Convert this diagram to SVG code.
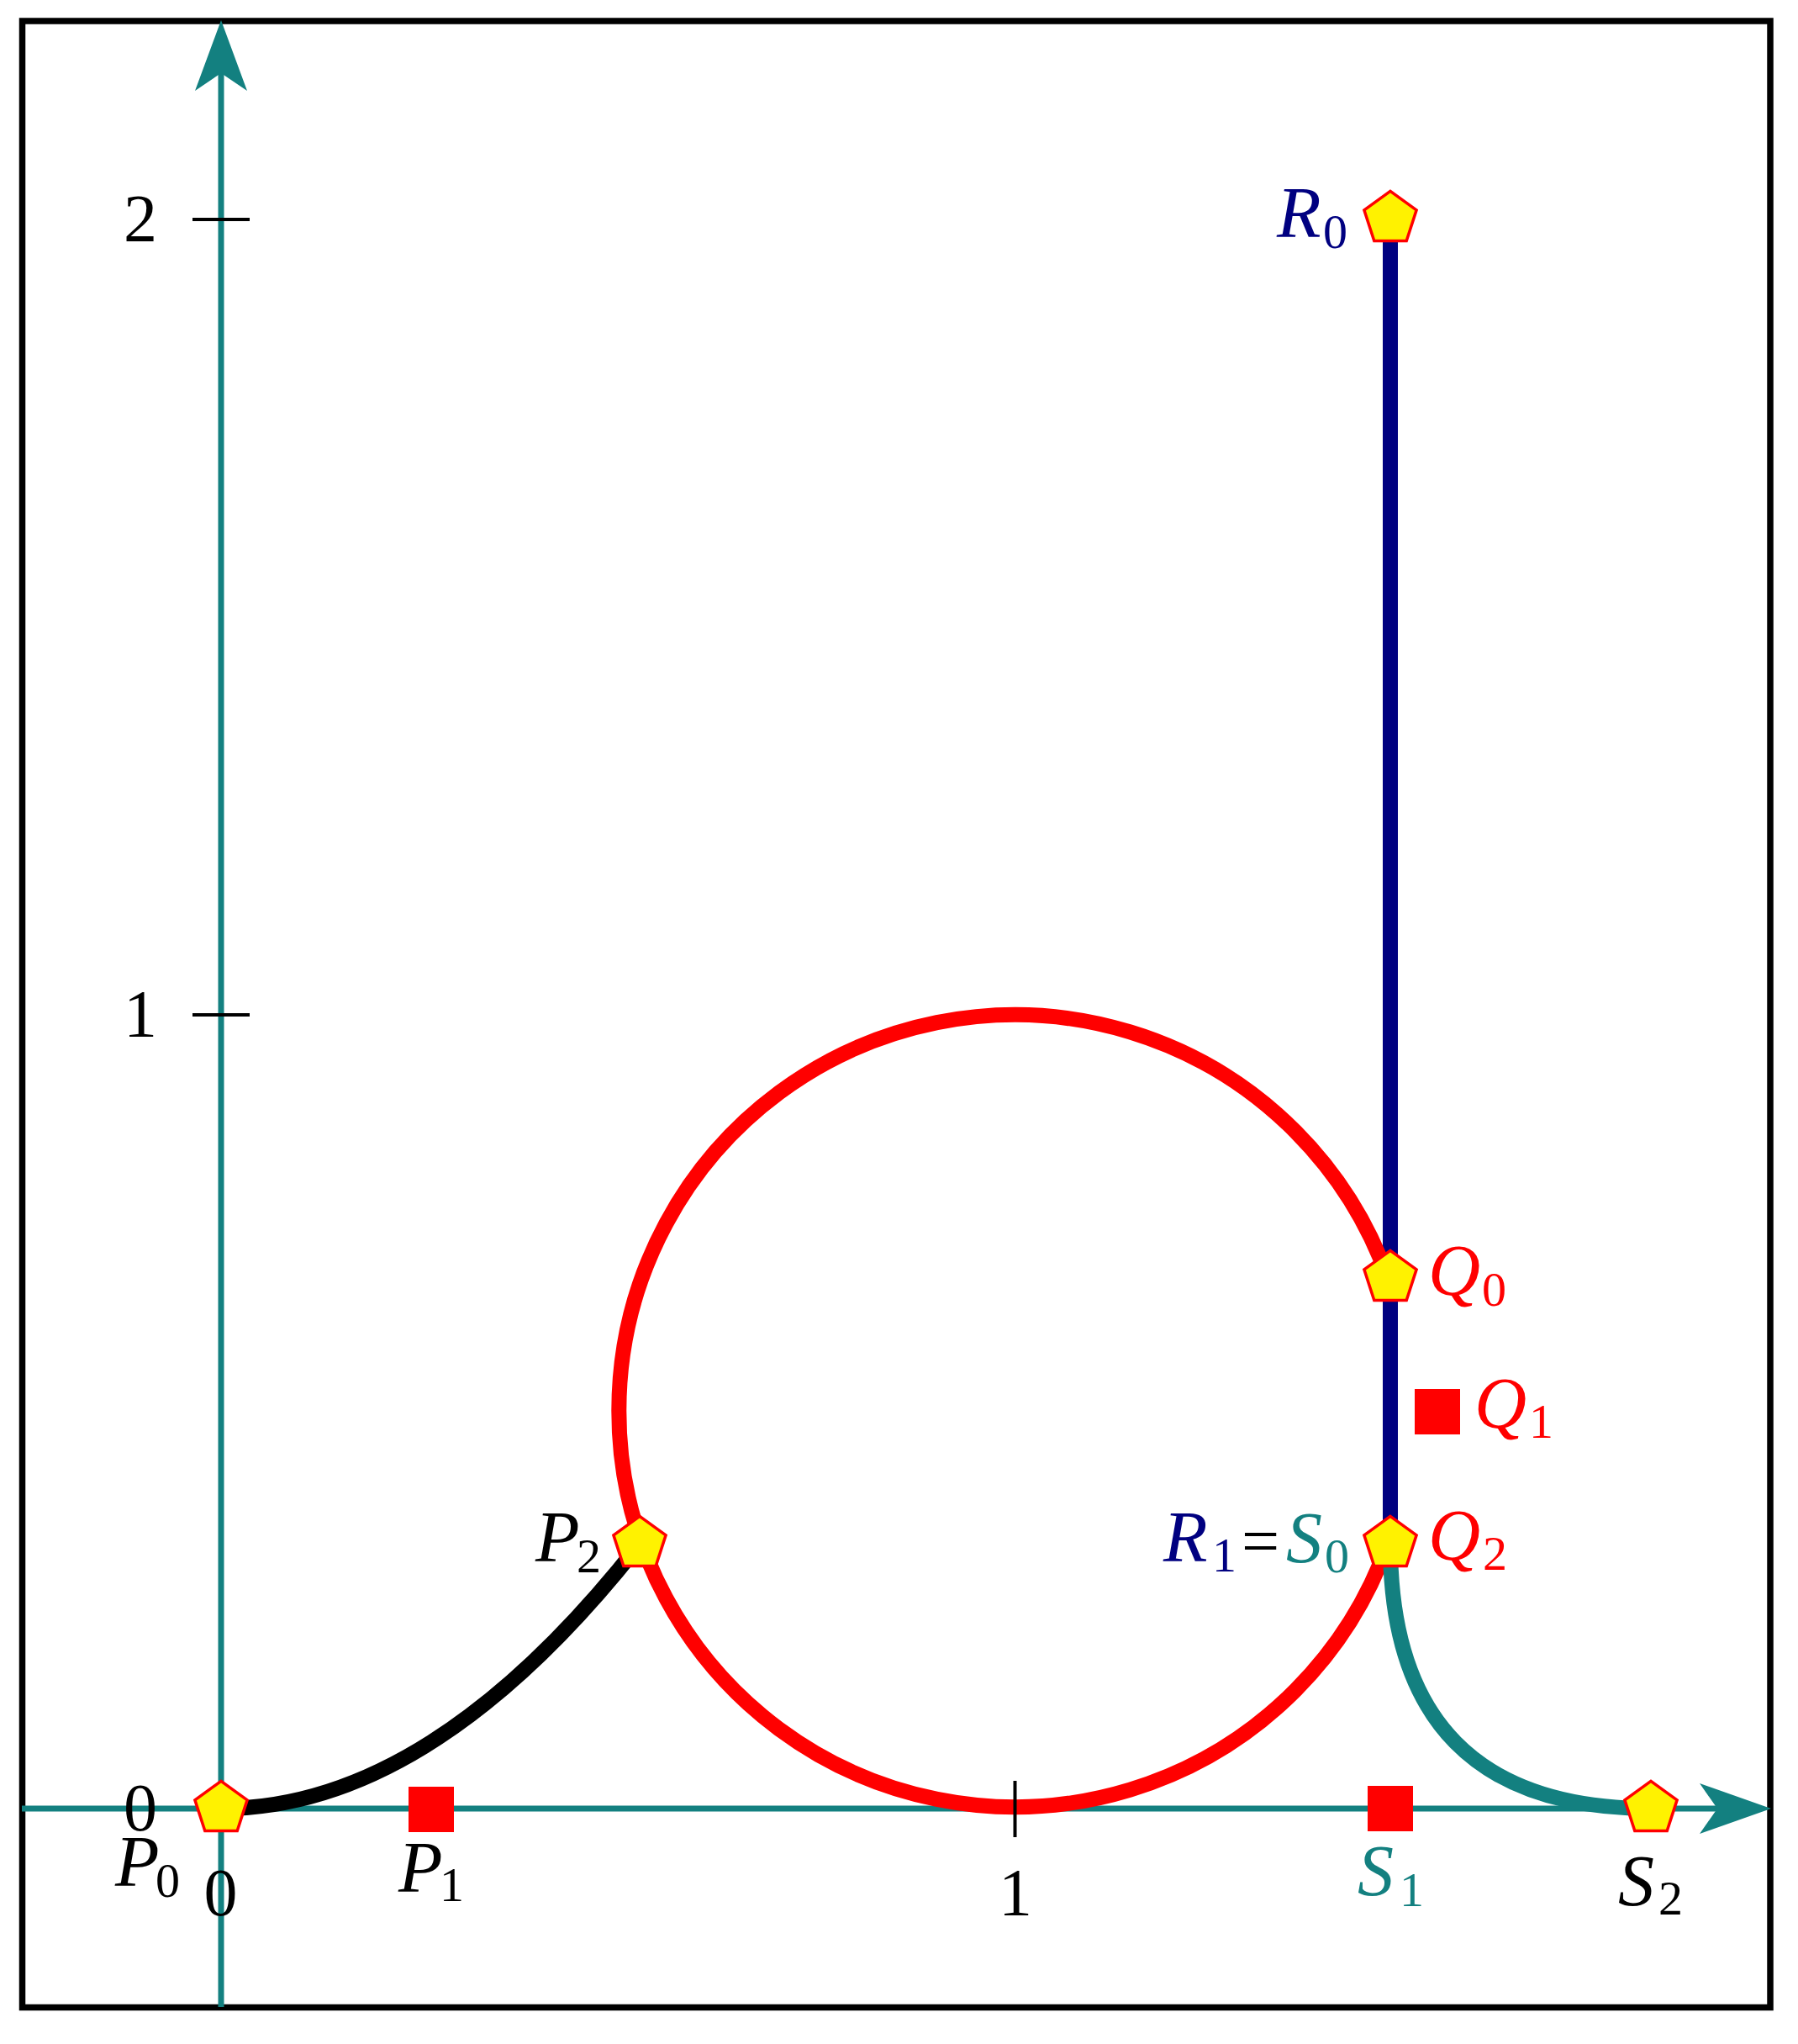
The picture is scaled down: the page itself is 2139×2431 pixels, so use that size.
<svg xmlns="http://www.w3.org/2000/svg" xmlns:xlink="http://www.w3.org/1999/xlink" width="2139" height="2431" viewBox="0 0 2139 2431">
<style>
.axis{stroke:#138080;stroke-width:7;fill:none}
.tick{stroke:#000;stroke-width:4;fill:none}
.curve{fill:none;stroke-width:18}
.lbl{font-family:"Liberation Serif","Times New Roman",serif;font-style:italic;font-size:86px}
.sub{font-family:"Liberation Serif","Times New Roman",serif;font-size:58px}
.num{font-family:"Liberation Serif","Times New Roman",serif;font-size:80px;text-anchor:middle;fill:#000}
.pent{fill:#FFF200;stroke:#FF0000;stroke-width:3.5;stroke-linejoin:miter}
.sq{fill:#FF0000}
</style>
<defs>
<polygon id="pent" class="pent" points="0,-32.7 31.1,-10.1 19.2,26.5 -19.2,26.5 -31.1,-10.1"/>
<rect id="sq" class="sq" x="-27" y="-27" width="54" height="54"/>
</defs>
<rect x="0" y="0" width="2139" height="2431" fill="#fff"/>
<rect x="26.5" y="25" width="2079.5" height="2362.5" fill="none" stroke="#000" stroke-width="7.5"/>
<g id="axes">
<line class="axis" x1="26" y1="2151" x2="2045" y2="2151"/>
<polygon fill="#138080" points="2107,2151 2022,2121 2043,2151 2022,2181"/>
<line class="axis" x1="263" y1="2387" x2="263" y2="86"/>
<polygon fill="#138080" points="263,24 232,108 263,87 294,108"/>
</g>
<g id="connectors">
<line class="curve" stroke="#000080" x1="1654" y1="260" x2="1654" y2="1836"/>
<path class="curve" stroke="#FF0000" d="M1651,1520 A471,471 0 1 0 1651,1836"/>
<path class="curve" stroke="#000" d="M263,2151 Q513,2151 761,1836"/>
<path class="curve" stroke="#138080" d="M1654,1836 Q1654,2151 1964,2151"/>
</g>
<g id="ticks">
<line class="tick" x1="229" y1="261" x2="297" y2="261"/>
<line class="tick" x1="229" y1="1207" x2="297" y2="1207"/>
<line class="tick" x1="1207.5" y1="2118" x2="1207.5" y2="2185"/>
<text class="num" x="167" y="287">2</text>
<text class="num" x="167" y="1233">1</text>
<text class="num" x="167" y="2177">0</text>
<text class="num" x="262.5" y="2278">0</text>
<text class="num" x="1208" y="2278">1</text>
</g>
<g id="P0"><use xlink:href="#pent" x="263" y="2151"/>
<text class="lbl" x="137" y="2243" fill="#000">P</text><text class="sub" x="185" y="2256" fill="#000">0</text></g>
<g id="P1"><use xlink:href="#sq" x="513" y="2152"/>
<text class="lbl" x="474" y="2250" fill="#000">P</text><text class="sub" x="523" y="2261" fill="#000">1</text></g>
<g id="P2"><use xlink:href="#pent" x="761" y="1836"/>
<text class="lbl" x="637" y="1857" fill="#000">P</text><text class="sub" x="686" y="1870" fill="#000">2</text></g>
<g id="Q0"><use xlink:href="#pent" x="1654" y="1520"/>
<text class="lbl" x="1699" y="1540" fill="#FF0000">Q</text><text class="sub" x="1763" y="1553" fill="#FF0000">0</text></g>
<g id="Q1"><use xlink:href="#sq" x="1710" y="1679"/>
<text class="lbl" x="1754" y="1698" fill="#FF0000">Q</text><text class="sub" x="1819" y="1710" fill="#FF0000">1</text></g>
<g id="Q2"><use xlink:href="#pent" x="1654" y="1836"/>
<text class="lbl" x="1699" y="1855" fill="#FF0000">Q</text><text class="sub" x="1764" y="1867" fill="#FF0000">2</text></g>
<g id="R0"><use xlink:href="#pent" x="1654" y="260"/>
<text class="lbl" x="1519" y="282" fill="#000080">R</text><text class="sub" x="1574" y="295" fill="#000080">0</text></g>
<g id="R1S0">
<text class="lbl" x="1384" y="1857" fill="#000080">R</text><text class="sub" x="1442" y="1869" fill="#000080">1</text>
<text class="sub" x="1477" y="1860" fill="#000" style="font-size:80px">=</text>
<text class="lbl" x="1530" y="1858" fill="#138080">S</text><text class="sub" x="1576" y="1870" fill="#138080">0</text></g>
<g id="S1"><use xlink:href="#sq" x="1654" y="2151"/>
<text class="lbl" x="1615" y="2254" fill="#138080">S</text><text class="sub" x="1665" y="2267" fill="#138080">1</text></g>
<g id="S2"><use xlink:href="#pent" x="1964" y="2151"/>
<text class="lbl" x="1925" y="2266" fill="#000">S</text><text class="sub" x="1973" y="2277" fill="#000">2</text></g>
</svg>
